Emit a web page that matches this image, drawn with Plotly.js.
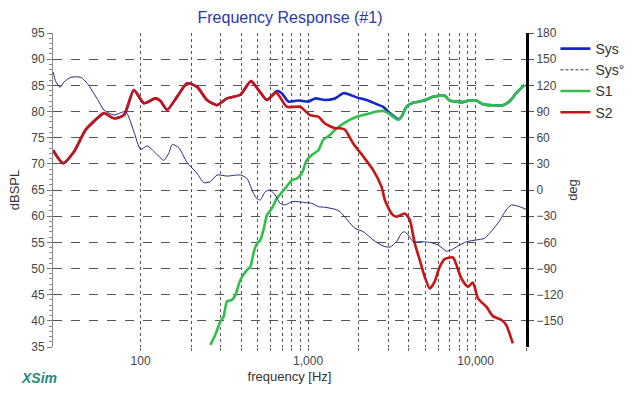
<!DOCTYPE html>
<html>
<head>
<meta charset="utf-8">
<script src="https://cdn.plot.ly/plotly-3.0.1.min.js"></script>
<style>html,body{margin:0;padding:0;background:#fff;}#chart{width:640px;height:397px;}</style>
</head>
<body>
<div id="chart"></div>
<script>
// Sys magnitude (dBSPL)
const sysFreq = [30,34.5,40,47,57.8,60.5,69.3,79.5,91.2,104.6,122.8,131.5,144,165,189.6,217.5,249,286,328,394,456,506,568,651,697,763,875,1004,1101,1261,1448,1622,1778,1950,2235,2563,2807,3077,3371,3449,3612,3869,4238,4644,5088,5570,6105,6540,7000,7680,8400,9200,10090,11050,12690,14540,15920,17460,19570];
const sysDb   = [72.6,70.1,72.3,76.5,79.3,79.7,78.7,79.3,84.1,81.6,82.5,82.0,80.3,82.8,85.4,84.7,82.2,81.2,82.5,83.2,85.8,84.1,82.2,83.9,83.5,81.9,82.1,81.9,82.5,82.2,82.5,83.5,83.2,82.7,82.2,81.4,80.9,79.7,78.7,78.5,79.0,80.9,81.7,81.9,82.3,82.8,83.0,83.0,82.1,81.9,81.8,82.1,82.1,81.4,81.2,81.2,81.9,83.5,85.1];

// Sys phase (deg)
const phaseFreq = [30,31.2,33,35,38.3,44,48.2,55.3,60.5,69.3,81.4,91.2,100,109.6,122.8,137.6,147.3,154.5,169,189.6,217.5,238.3,261,286,328,394,431,472,495,518,555,594,636,681,730,800,875,959,1052,1152,1261,1448,1550,1905,2134,2448,2807,3077,3371,3612,3779,3955,4238,4644,5322,5966,6693,7168,7847,8805,10090,11316,12110,13580,15240,16320,18280,20000];
const phaseDeg  = [135.6,124.2,117.7,124,129.2,129.2,122,104,91.7,86,89.8,67,46.5,50.5,42.5,34,42.1,52.2,48.5,31.5,19.1,8.4,9.5,17.2,16,17.2,13.4,-3.8,-10,-11.5,-2,0,-5.7,-15.2,-17.2,-13.4,-13.4,-14.5,-15.2,-19.1,-19.8,-22.1,-24.9,-43.9,-47.8,-57.3,-64.2,-65.5,-59.3,-49.7,-47.8,-51.6,-59.3,-59.3,-60,-63,-70,-68.8,-64.2,-59.3,-57.3,-55.4,-49.7,-38.2,-22.9,-17.2,-19.1,-22.1];

// S1 magnitude (dBSPL)
const s1Freq = [261,279,299,313,328,351,368,394,431,452,472,495,518,542,568,608,651,730,800,857,917,982,1052,1152,1233,1352,1448,1622,1950,2235,2563,2807,3006,3220,3449,3612,3869,4238,4644,5088,5570,6105,6540,7000,7680,8400,9200,10090,11050,12690,14540,15920,17460,19570];
const s1Db   = [35.4,37.3,39.8,40.8,43.7,44.0,44.9,47.8,49.7,50.3,52.9,54.8,55.4,57.4,60.2,61.5,63.4,65.3,66.9,67.2,68.2,70.7,71.7,72.6,74.6,75.5,76.5,77.7,79.0,79.5,80.0,80.1,79.7,79.0,78.4,79.0,80.9,81.7,81.9,82.3,82.8,83.0,83.0,82.1,81.9,81.8,82.1,82.1,81.4,81.2,81.2,81.9,83.5,85.1];

// S2 magnitude (dBSPL)
const s2Freq = [30,34.5,40,47,57.8,60.5,69.3,79.5,91.2,104.6,122.8,131.5,144,165,189.6,217.5,249,286,328,394,456,506,568,645,747,896,1027,1152,1261,1448,1550,1660,1860,2134,2448,2747,2874,3148,3371,3779,4046,4335,4644,4970,5322,5700,6105,6540,7330,7680,8225,9000,9640,10330,11590,12690,14230,15240,16680];
const s2Db   = [72.6,70.1,72.3,76.5,79.3,79.7,78.7,79.3,84.1,81.6,82.5,82.0,80.3,82.8,85.4,84.7,82.2,81.2,82.5,83.2,85.8,84.1,82.2,83.6,80.9,80.9,79.3,79.0,77.7,76.8,76.8,76.5,73.9,71.4,68.8,65.6,63.1,60.5,59.9,60.5,59.3,54.8,51.6,48.4,46.2,47.5,50.3,51.8,52.1,50.7,48.1,46.5,47.3,44.3,42.7,40.9,40.2,39.2,35.7];

// axis ticks
const xGridVals = [100,200,300,400,500,600,700,800,900,1000,2000,3000,4000,5000,6000,7000,8000,9000,10000,20000];
const xGridText = ["100","","","","","","","","","1,000","","","","","","","","","10,000",""];
const dbTicks = [35,40,45,50,55,60,65,70,75,80,85,90,95];
const degTicks = [-150,-120,-90,-60,-30,0,30,60,90,120,150,180];

const FONT = "Liberation Sans, Arial, sans-serif";

const traces = [
  {x: sysFreq, y: sysDb, name: "Sys", mode: "lines", legendrank: 1,
   line: {color: "#1428c8", width: 2.6, shape: "spline", smoothing: 0.6}},
  {x: phaseFreq, y: phaseDeg, name: "Sys°", yaxis: "y2", mode: "lines", showlegend: false,
   line: {color: "#28287a", width: 1, shape: "spline", smoothing: 0.6}},
  {x: [null], y: [null], name: "Sys°", yaxis: "y2", mode: "lines", legendrank: 2,
   line: {color: "#333", width: 1, dash: "3px,2px"}},
  {x: s1Freq, y: s1Db, name: "S1", mode: "lines", legendrank: 3,
   line: {color: "#2fbf4a", width: 2.6, shape: "spline", smoothing: 0.6}},
  {x: s2Freq, y: s2Db, name: "S2", mode: "lines", legendrank: 4,
   line: {color: "#c81414", width: 2.6, shape: "spline", smoothing: 0.6}}
];

const layout = {
  width: 640, height: 397,
  margin: {l: 53, r: 113, t: 33, b: 50, pad: 0},
  paper_bgcolor: "#fff", plot_bgcolor: "#fff",
  font: {family: FONT, color: "#444", size: 12},
  title: {text: "Frequency Response (#1)", x: 0.4531, xanchor: "center", y: 0.955, yanchor: "middle",
          font: {family: FONT, size: 16, color: "#2a37b0"}},
  showlegend: true,
  legend: {x: 1.06, xanchor: "left", y: 1.0, yanchor: "top", font: {family: FONT, size: 14, color: "#333"},
           bgcolor: "rgba(0,0,0,0)", tracegroupgap: 0, itemwidth: 30},
  xaxis: {type: "log", range: [Math.log10(30), Math.log10(20000)],
          tickmode: "array", tickvals: xGridVals, ticktext: xGridText,
          showgrid: true, gridcolor: "#555", griddash: "dot", gridwidth: 1,
          ticks: "outside", ticklen: 3, tickcolor: "#666",
          showline: false, zeroline: false,
          tickfont: {family: FONT, size: 12, color: "#444"},
          title: {text: "frequency [Hz]", font: {family: FONT, size: 13, color: "#333"}, standoff: 4}},
  yaxis: {range: [35, 95], tickmode: "array", tickvals: dbTicks,
          showgrid: true, gridcolor: "#555", griddash: "dash", gridwidth: 1,
          ticks: "outside", ticklen: 5, tickcolor: "#777",
          minor: {dtick: 1, ticklen: 3, tickcolor: "#888", ticks: "outside", showgrid: false},
          showline: true, linecolor: "#888", linewidth: 1, zeroline: false,
          tickfont: {family: FONT, size: 12, color: "#444"},
          title: {text: "dBSPL", font: {family: FONT, size: 13, color: "#333"}, standoff: 8}},
  yaxis2: {range: [-180, 180], overlaying: "y", side: "right", anchor: "x",
           tickmode: "array", tickvals: degTicks, showgrid: false, zeroline: false,
           ticks: "outside", ticklen: 5, tickcolor: "#555",
           showline: true, linecolor: "#000", linewidth: 3,
           tickfont: {family: FONT, size: 12, color: "#444"},
           title: {text: "deg", font: {family: FONT, size: 13, color: "#333"}, standoff: 6}},
  annotations: [
    {text: "<b><i>XSim</i></b>", xref: "paper", yref: "paper", x: -0.072, y: -0.099,
     xanchor: "left", yanchor: "middle", showarrow: false,
     font: {family: FONT, size: 14, color: "#2a8a78"}}
  ]
};

Plotly.newPlot("chart", traces, layout, {staticPlot: true, displayModeBar: false});
</script>
</body>
</html>
